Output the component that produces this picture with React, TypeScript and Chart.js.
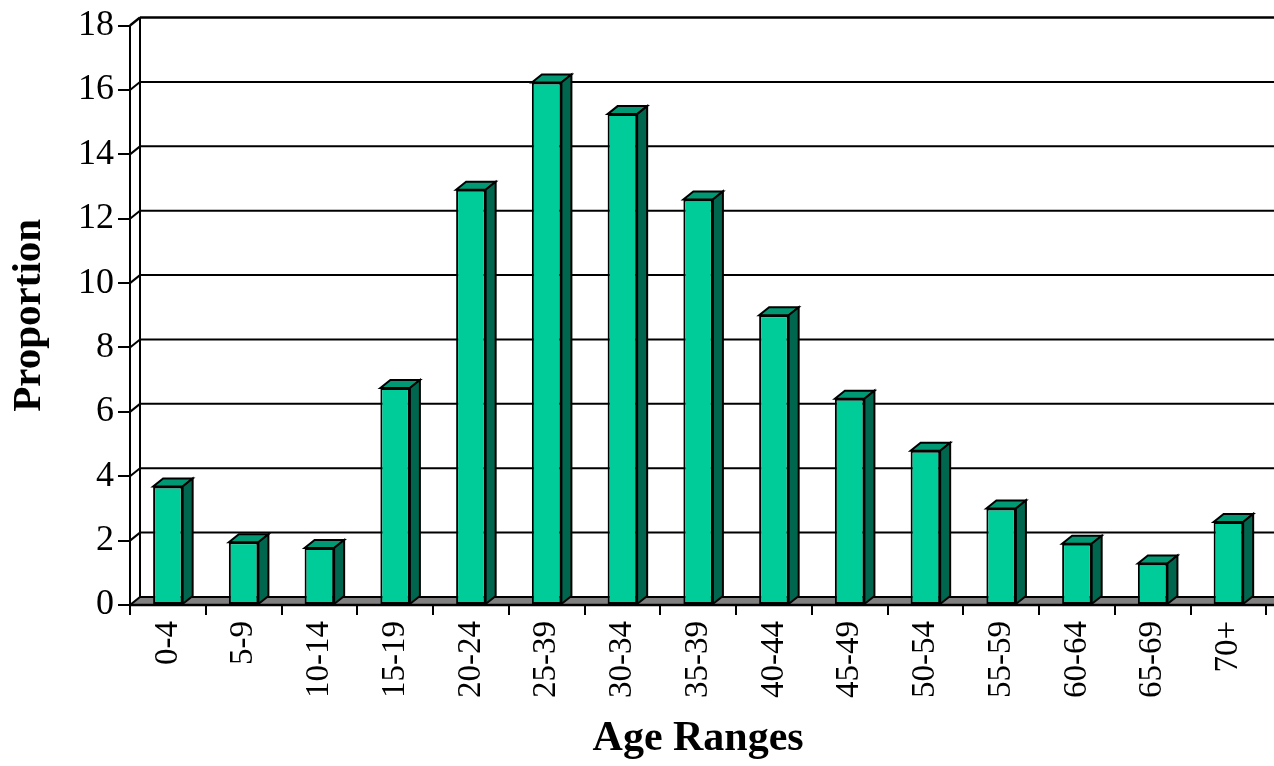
import React, { useEffect, useRef } from "react";
import { Chart, registerables } from "chart.js";

Chart.register(...registerables);

const categories: string[] = [
  "0-4", "5-9", "10-14", "15-19", "20-24", "25-39", "30-34", "35-39",
  "40-44", "45-49", "50-54", "55-59", "60-64", "65-69", "70+",
];
const proportions: number[] = [
  3.68, 1.95, 1.77, 6.74, 12.9, 16.23, 15.25, 12.6, 9.0, 6.41, 4.79, 3.0, 1.9, 1.29, 2.58,
];
const yMin = 0;
const yMax = 18;
const yStep = 2;
const xTitle = "Age Ranges";
const yTitle = "Proportion";

const FONT = "'Liberation Serif', 'Times New Roman', serif";
const DX = 10;
const DY = -8;
const FRONT = "rgb(0,204,153)";
const TOP = "rgb(0,153,115)";
const SIDE = "rgb(0,102,77)";
const FLOOR = "#808080";

function line(ctx: CanvasRenderingContext2D, x1: number, y1: number, x2: number, y2: number) {
  ctx.beginPath();
  ctx.moveTo(x1, y1);
  ctx.lineTo(x2, y2);
  ctx.stroke();
}

function poly(ctx: CanvasRenderingContext2D, pts: number[][], fill: string) {
  ctx.beginPath();
  ctx.moveTo(pts[0][0], pts[0][1]);
  for (let i = 1; i < pts.length; i++) ctx.lineTo(pts[i][0], pts[i][1]);
  ctx.closePath();
  ctx.fillStyle = fill;
  ctx.fill();
  ctx.stroke();
}

const depthPlugin = {
  id: "depth3d",
  beforeDatasetsDraw(chart: any) {
    const { ctx, chartArea, scales } = chart;
    const ys = scales.y;
    const left = chartArea.left;
    const right = chartArea.right;
    const bottom = ys.getPixelForValue(yMin);
    const top = ys.getPixelForValue(yMax);
    ctx.save();
    ctx.strokeStyle = "#000";
    ctx.lineCap = "butt";
    ys.ticks.forEach((t: any) => {
      const yf = ys.getPixelForValue(t.value);
      if (t.value === yMin) return;
      ctx.lineWidth = t.value === yMax ? 2.5 : 2;
      line(ctx, left, yf, left + DX, yf + DY);
      line(ctx, left + DX, yf + DY, right + DX + 20, yf + DY);
    });
    ctx.lineWidth = 2;
    line(ctx, left + DX, top + DY, left + DX, bottom + DY);
    ctx.lineWidth = 2;
    poly(
      ctx,
      [
        [left, bottom],
        [right + DX + 20, bottom],
        [right + DX + 20, bottom + DY],
        [left + DX, bottom + DY],
      ],
      FLOOR
    );
    ctx.lineWidth = 2;
    line(ctx, left, top, left, bottom + 10);
    ctx.lineWidth = 2.5;
    line(ctx, left, bottom, right + 20, bottom);
    ctx.restore();
  },
  afterDatasetsDraw(chart: any) {
    const { ctx } = chart;
    const meta = chart.getDatasetMeta(0);
    ctx.save();
    ctx.strokeStyle = "#000";
    ctx.lineWidth = 2;
    ctx.lineJoin = "miter";
    meta.data.forEach((bar: any) => {
      const { x, y, base, width } = bar.getProps(["x", "y", "base", "width"], true);
      const l = x - width / 2;
      const r = x + width / 2;
      poly(ctx, [[l, y], [r, y], [r + DX, y + DY], [l + DX, y + DY]], TOP);
      poly(ctx, [[r, y], [r + DX, y + DY], [r + DX, base + DY], [r, base]], SIDE);
    });
    ctx.restore();
  },
};

export default function App() {
  const ref = useRef<HTMLCanvasElement | null>(null);

  useEffect(() => {
    if (!ref.current) return;
    const chart = new Chart(ref.current, {
      type: "bar",
      data: {
        labels: categories,
        datasets: [
          {
            data: proportions,
            backgroundColor: FRONT,
            borderColor: "#000",
            borderWidth: 2,
            borderSkipped: false,
            barPercentage: 0.39,
            categoryPercentage: 1,
          },
        ],
      },
      options: {
        responsive: false,
        animation: false,
        devicePixelRatio: 1,
        layout: { padding: { top: 22, left: 0, right: 0, bottom: 0 } },
        plugins: {
          legend: { display: false },
          tooltip: { enabled: false },
        },
        scales: {
          x: {
            grid: {
              offset: true,
              drawOnChartArea: false,
              drawTicks: true,
              tickLength: 10,
              color: "#000",
              lineWidth: 2,
            },
            border: { display: false },
            ticks: {
              autoSkip: false,
              maxRotation: 90,
              minRotation: 90,
              padding: 6,
              color: "#000",
              font: { family: FONT, size: 33 },
            },
            title: {
              display: true,
              text: xTitle,
              color: "#000",
              font: { family: FONT, size: 42, weight: "bold" },
              padding: { top: 0, bottom: 2 },
            },
            afterFit: (s: any) => {
              s.height = 161;
            },
          },
          y: {
            min: yMin,
            max: yMax,
            grid: {
              drawOnChartArea: false,
              drawTicks: true,
              tickLength: 12,
              color: "#000",
              lineWidth: 2,
            },
            border: { display: false },
            ticks: {
              stepSize: yStep,
              padding: 4,
              color: "#000",
              font: { family: FONT, size: 36 },
            },
            title: {
              display: true,
              text: yTitle,
              color: "#000",
              font: { family: FONT, size: 41, weight: "bold" },
              padding: { top: 5, bottom: 0 },
            },
            afterFit: (s: any) => {
              s.width = 130;
            },
          },
        },
      },
      plugins: [depthPlugin],
    });
    return () => chart.destroy();
  }, []);

  return (
    <div style={{ position: "fixed", left: 0, top: 0, width: 1274, height: 766, overflow: "hidden", background: "#fff" }}>
      <canvas ref={ref} width={1274} height={766} style={{ width: 1274, height: 766, display: "block" }} />
    </div>
  );
}
